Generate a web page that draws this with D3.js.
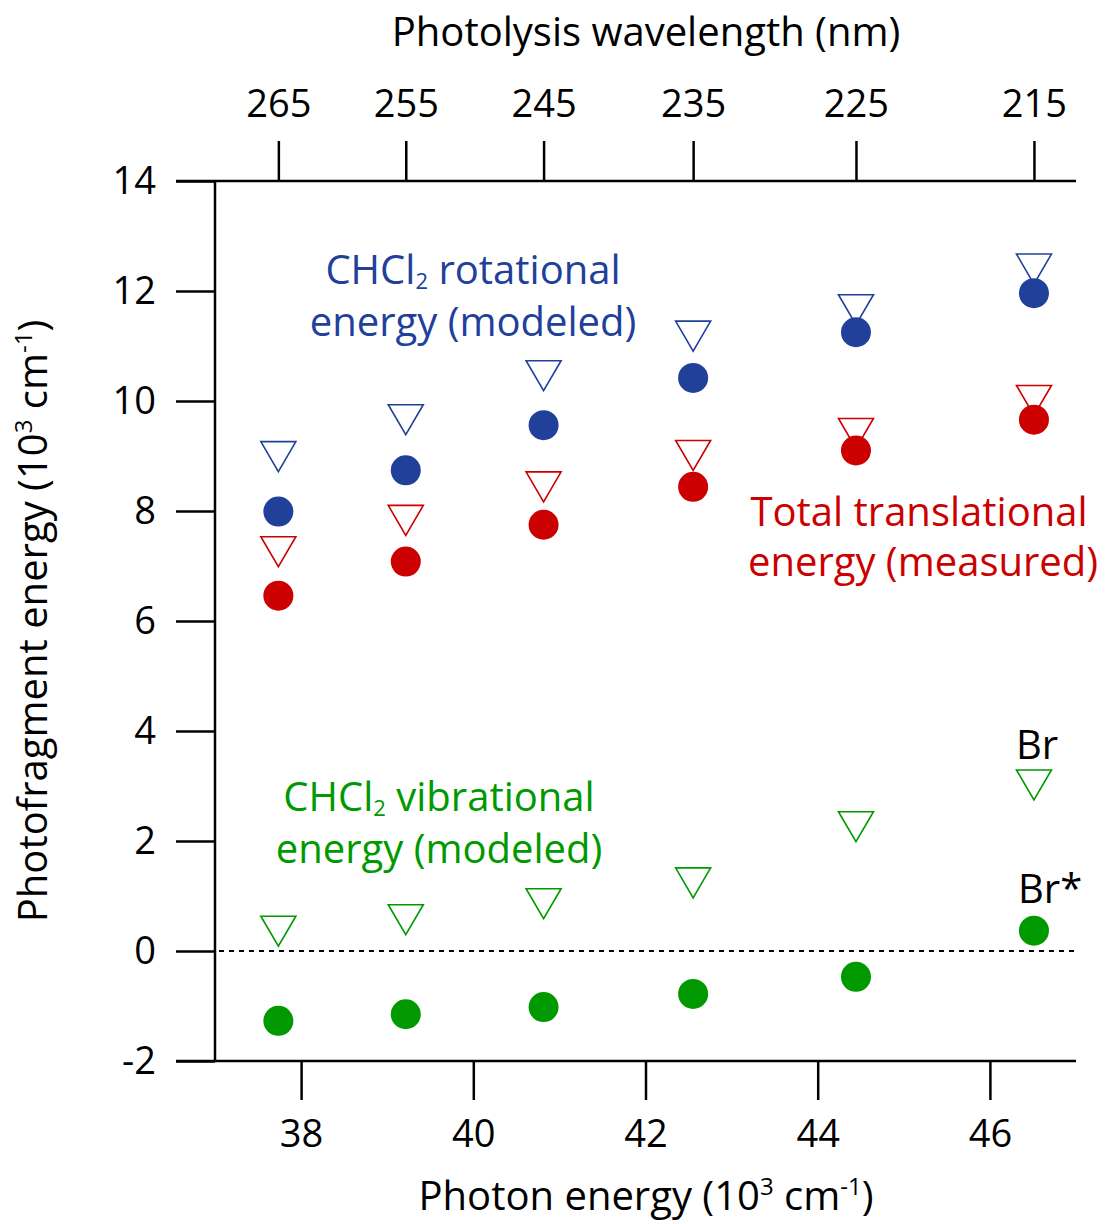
<!DOCTYPE html>
<html>
<head>
<meta charset="utf-8">
<script src="https://d3js.org/d3.v7.min.js"></script>
<style>
  body { margin: 0; background: #fff; }
  text { font-family: "Open Sans", "Noto Sans", sans-serif; }
</style>
</head>
<body>
<div id="chart"></div>
<script>
// photolysis wavelengths (nm) and photon energies (10^3 cm^-1)
var wavelengths = [265, 255, 245, 235, 225, 215];
var photonEnergy = wavelengths.map(function (w) { return 1e4 / w; });

var rotModeled = [9.08, 9.75, 10.55, 11.27, 11.75, 12.49];
var rotFromBrStar = [7.99, 8.74, 9.56, 10.42, 11.25, 11.96];
var transMeasuredBr = [7.35, 7.92, 8.53, 9.10, 9.50, 10.10];
var transMeasuredBrStar = [6.46, 7.08, 7.75, 8.44, 9.10, 9.66];
var vibBr = [0.45, 0.66, 0.95, 1.33, 2.35, 3.11];
var vibBrStar = [-1.27, -1.15, -1.02, -0.78, -0.47, 0.37];

var yTicks = [-2, 0, 2, 4, 6, 8, 10, 12, 14];
var xTicks = [38, 40, 42, 44, 46];

var width = 1105, height = 1224;
var blue = "#21409a", red = "#cc0000", green = "#009900";

var svg = d3.select("#chart").append("svg")
  .attr("width", width).attr("height", height);

var x = d3.scaleLinear().domain([37, 47]).range([215, 1076]);
var y = d3.scaleLinear().domain([-2, 14]).range([1061, 181]);

var tickFont = 38, labelFont = 40;

// left axis
var yAxis = d3.axisLeft(y).tickValues(yTicks).tickSize(39).tickPadding(20)
  .tickFormat(function (d) { return d; });
var gy = svg.append("g").attr("transform", "translate(215,0)").call(yAxis);
gy.select(".domain").remove();

// bottom axis
var xAxis = d3.axisBottom(x).tickValues(xTicks).tickSize(39).tickPadding(20);
var gx = svg.append("g").attr("transform", "translate(0,1061)").call(xAxis);
gx.select(".domain").remove();

// top axis (wavelength)
var topAxis = d3.axisTop(x).tickValues(photonEnergy).tickSize(40).tickPadding(24)
  .tickFormat(function (d, i) { return wavelengths[i]; });
var gt = svg.append("g").attr("transform", "translate(0,181)").call(topAxis);
gt.select(".domain").remove();

[gy, gx, gt].forEach(function (g) {
  g.selectAll(".tick line").attr("stroke", "#000").attr("stroke-width", 2.5);
  g.selectAll(".tick text").attr("fill", "#000")
    .style("font-family", '"Open Sans", sans-serif').style("font-size", tickFont + "px");
});

// frame lines
svg.append("line").attr("x1", 176).attr("x2", 1076).attr("y1", y(14)).attr("y2", y(14))
  .attr("stroke", "#000").attr("stroke-width", 2.5);
svg.append("line").attr("x1", 176).attr("x2", 1076).attr("y1", y(-2)).attr("y2", y(-2))
  .attr("stroke", "#000").attr("stroke-width", 2.5);
svg.append("line").attr("x1", 215).attr("x2", 215).attr("y1", y(14)).attr("y2", y(-2))
  .attr("stroke", "#000").attr("stroke-width", 2.5);

// zero line
svg.append("line").attr("x1", 219).attr("x2", 1076).attr("y1", y(0)).attr("y2", y(0))
  .attr("stroke", "#000").attr("stroke-width", 1.8).attr("stroke-dasharray", "5,5");

// markers
var triPath = "M-17.5,-10L17.5,-10L0,20Z";

function drawTriangles(values, color) {
  svg.append("g").selectAll("path").data(values).enter().append("path")
    .attr("d", triPath)
    .attr("transform", function (d, i) { return "translate(" + x(photonEnergy[i]) + "," + y(d) + ")"; })
    .attr("fill", "none").attr("stroke", color).attr("stroke-width", 1.6);
}
function drawCircles(values, color) {
  svg.append("g").selectAll("circle").data(values).enter().append("circle")
    .attr("cx", function (d, i) { return x(photonEnergy[i]); })
    .attr("cy", function (d) { return y(d); })
    .attr("r", 15).attr("fill", color);
}

drawTriangles(rotModeled, blue);
drawTriangles(transMeasuredBr, red);
drawTriangles(vibBr, green);
drawCircles(rotFromBrStar, blue);
drawCircles(transMeasuredBrStar, red);
drawCircles(vibBrStar, green);

// text helpers
function label(xp, yp, color, parts, anchor) {
  var t = svg.append("text").attr("x", xp).attr("y", yp)
    .attr("fill", color).attr("text-anchor", anchor || "middle")
    .style("font-size", labelFont + "px");
  parts.forEach(function (p) {
    var s = t.append("tspan").text(p.t);
    if (p.sub) s.attr("dy", 5).style("font-size", "22px");
    if (p.sup) s.attr("dy", -15).style("font-size", "24px");
    if (p.reset) s.attr("dy", p.reset);
  });
  return t;
}

label(646, 46, "#000", [{ t: "Photolysis wavelength (nm)" }]);
label(646, 1210, "#000", [
  { t: "Photon energy (10" }, { t: "3", sup: true }, { t: " cm", reset: 15 },
  { t: "-1", sup: true }, { t: ")", reset: 15 }
]);
var yl = label(0, 0, "#000", [
  { t: "Photofragment energy (10" }, { t: "3", sup: true }, { t: " cm", reset: 15 },
  { t: "-1", sup: true }, { t: ")", reset: 15 }
]);
yl.attr("transform", "translate(47,621) rotate(-90)");

label(473, 284, blue, [{ t: "CHCl" }, { t: "2", sub: true }, { t: " rotational", reset: -5 }]);
label(473, 336, blue, [{ t: "energy (modeled)" }]);
label(439, 811, green, [{ t: "CHCl" }, { t: "2", sub: true }, { t: " vibrational", reset: -5 }]);
label(439, 863, green, [{ t: "energy (modeled)" }]);
label(919, 526, red, [{ t: "Total translational" }]);
label(923, 576, red, [{ t: "energy (measured)" }]);
label(1037, 759, "#000", [{ t: "Br" }]);
label(1018, 903, "#000", [{ t: "Br*" }], "start");
</script>
</body>
</html>
